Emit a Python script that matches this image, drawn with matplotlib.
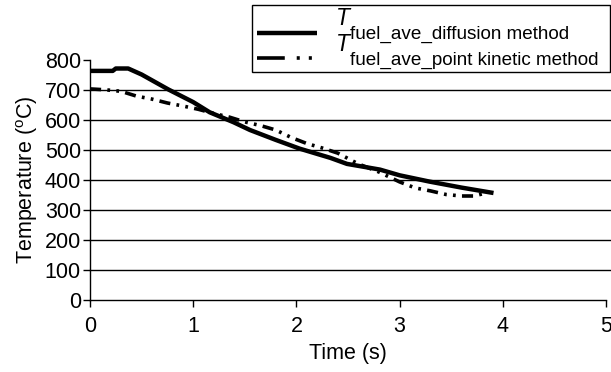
import matplotlib
matplotlib.use("Agg")
import matplotlib.pyplot as plt
from matplotlib.lines import Line2D
from matplotlib.patches import Rectangle
from matplotlib.transforms import IdentityTransform

plt.rcParams['font.family'] = ['Liberation Sans', 'DejaVu Sans']
plt.rcParams['mathtext.fontset'] = 'custom'
plt.rcParams['mathtext.rm'] = 'Liberation Sans'
plt.rcParams['mathtext.it'] = 'Liberation Sans:italic'
plt.rcParams['lines.scale_dashes'] = False

# Data
t_diff = [0, 0.22, 0.25, 0.37, 0.5, 0.76, 1.0, 1.16, 1.39, 1.55, 1.8, 2.03, 2.33, 2.49, 2.81, 3.0, 3.29, 3.6, 3.91]
T_diff = [762, 762, 770, 770, 750, 700, 658, 624, 591, 565, 532, 503, 472, 452, 433, 414, 393, 373, 355]

t_pk = [0, 0.15, 0.3, 0.45, 0.6, 0.75, 0.9, 1.05, 1.2, 1.35, 1.5, 1.65, 1.8, 1.95, 2.1, 2.25, 2.4, 2.6, 2.8, 3.0, 3.15, 3.3, 3.45, 3.6, 3.72, 3.85]
T_pk = [702, 699, 694, 678, 668, 655, 645, 634, 620, 608, 592, 580, 565, 540, 520, 505, 488, 452, 425, 392, 372, 362, 350, 345, 345, 356]

x_ticks = [0, 1, 2, 3, 4, 5]
y_ticks = [0, 100, 200, 300, 400, 500, 600, 700, 800]
grid_levels = [100, 200, 300, 400, 500, 600, 700]

legend_symbol = 'T'
legend_subs = ['fuel_ave_diffusion method', 'fuel_ave_point kinetic method']

W, H = 611, 372
fig = plt.figure(figsize=(W/100, H/100), dpi=100)
ax = fig.add_axes([90/W, 1-299.5/H, (606-90)/W, 240/H])

for g in grid_levels:
    ax.plot([0, 1.01], [g, g], transform=ax.get_yaxis_transform(), color='black',
            lw=1.0, clip_on=False, zorder=1)

ax.plot(t_diff, T_diff, color='black', lw=3.2, solid_capstyle='butt', zorder=3)
ax.plot(t_pk, T_pk, color='black', lw=2.6, linestyle=(0, (8, 4.5, 2, 4.5, 2, 4.5)),
        dash_capstyle='butt', zorder=3)

ax.set_xlim(0, 5)
ax.set_ylim(0, 800)
ax.set_xticks(x_ticks)
ax.set_yticks(y_ticks)
ax.spines['top'].set_visible(False)
ax.spines['right'].set_visible(False)
for s in ['left', 'bottom']:
    ax.spines[s].set_linewidth(1.0)
ax.tick_params(axis='both', direction='out', length=5, width=1.0, labelsize=15.5)
ax.tick_params(axis='x', pad=6.8)
ax.tick_params(axis='y', pad=1.5)
ax.set_xlabel('Time (s)', fontsize=15.5, labelpad=4.5)
ax.set_ylabel(r'Temperature ($^{\mathrm{o}}$C)', fontsize=15.5, labelpad=3.5)

# legend: custom handles to mimic the reference key
h1 = Line2D([], [], color='black', lw=3.2, solid_capstyle='butt')
h2 = Line2D([], [], color='black', lw=2.6, linestyle=(0, (20, 8.6, 2.2, 6.5, 2.2, 3.8)),
            dash_capstyle='butt')
leg = fig.legend([h1, h2], legend_subs, loc='upper left',
                 bbox_to_anchor=(257/W, 1-26/H), bbox_transform=fig.transFigure,
                 fontsize=13.6, frameon=False, handlelength=3.2, handletextpad=1.75,
                 borderpad=0, labelspacing=0.43, borderaxespad=0)

# legend frame
fig.patches.append(Rectangle((252/W, 1-72/H), (610-252)/W, (72-5)/H,
                             transform=fig.transFigure, fill=False,
                             edgecolor='black', lw=1.0))

fig.canvas.draw()
renderer = fig.canvas.get_renderer()
for txt in leg.get_texts():
    bb = txt.get_window_extent(renderer)
    lp_d = renderer.get_text_width_height_descent('lp', txt.get_fontproperties(), False)[2]
    baseline = bb.y0 + lp_d
    fig.text(bb.x0 - 1.0, baseline + 14.0, legend_symbol, transform=IdentityTransform(),
             fontsize=16.5, style='italic', ha='right', va='baseline')

fig.savefig('out.png', dpi=100)
